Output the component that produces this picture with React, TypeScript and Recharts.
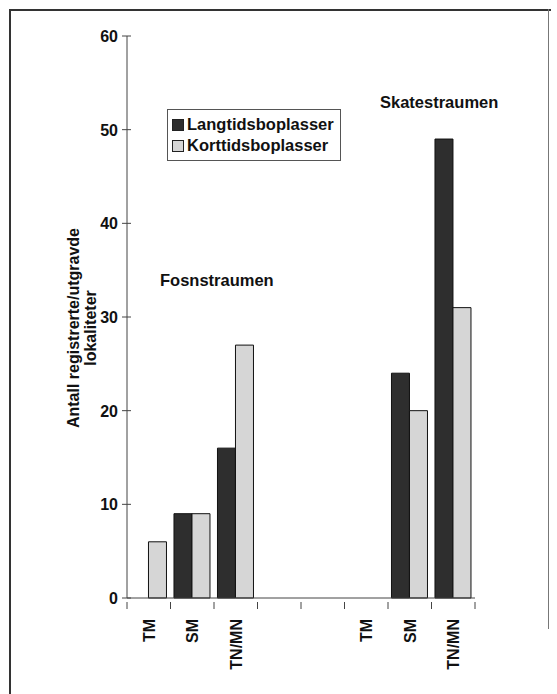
import { BarChart, Bar, XAxis, YAxis } from 'recharts'

const categories = ['TM', 'SM', 'TN/MN', '', '', 'TM', 'SM', 'TN/MN']
const langtid = [0, 9, 16, 0, 0, 0, 24, 49]
const korttid = [6, 9, 27, 0, 0, 0, 20, 31]
const yTicks = [0, 10, 20, 30, 40, 50, 60]

const seriesInfo = [
  { key: 'lang', name: 'Langtidsboplasser', color: '#2e2e2e' },
  { key: 'kort', name: 'Korttidsboplasser', color: '#d6d6d6' }
]

const data = categories.map((label, i) => ({
  id: 'c' + i,
  label,
  lang: langtid[i],
  kort: korttid[i]
}))

const W = 557
const H = 694
const PLOT_LEFT = 127
const PLOT_RIGHT = 475
const PLOT_TOP = 36
const AXIS_Y = 598
const BAND = (PLOT_RIGHT - PLOT_LEFT) / categories.length
const FONT = '"Liberation Sans", Arial, sans-serif'

function XTick(props: any) {
  const { x, y, index } = props
  const label = categories[index] ?? ''
  const left = x - BAND / 2
  return (
    <g>
      <line x1={left} x2={left} y1={y - 4} y2={y + 3} stroke="#444" strokeWidth={1} />
      {index === categories.length - 1 && (
        <line x1={x + BAND / 2} x2={x + BAND / 2} y1={y - 4} y2={y + 3} stroke="#444" strokeWidth={1} />
      )}
      <text
        x={0}
        y={0}
        transform={`translate(${x + 6}, ${y + 13}) rotate(-90)`}
        textAnchor="end"
        fontSize={16}
        fontWeight="bold"
        fontFamily={FONT}
        fill="#111"
      >
        {label}
      </text>
    </g>
  )
}

function YTick(props: any) {
  const { y, payload } = props
  return (
    <g>
      <line x1={PLOT_LEFT - 5} x2={PLOT_LEFT + 4} y1={y} y2={y} stroke="#444" strokeWidth={1} />
      <text x={PLOT_LEFT - 9} y={y + 6} textAnchor="end" fontSize={16} fontWeight="bold" fontFamily={FONT} fill="#111">
        {payload.value}
      </text>
    </g>
  )
}

function LegendBox() {
  return (
    <div
      style={{
        position: 'absolute',
        left: 167,
        top: 109,
        border: '1px solid #555',
        width: 174,
        height: 52,
        boxSizing: 'border-box',
        padding: '4px 0 0 4px',
        fontFamily: FONT,
        fontWeight: 'bold',
        fontSize: 16.5,
        color: '#111',
        background: '#fff'
      }}
    >
      {seriesInfo.map((s) => (
        <div key={s.key} style={{ display: 'flex', alignItems: 'center', height: 21 }}>
          <span
            style={{
              display: 'inline-block',
              width: 10,
              height: 10,
              background: s.color,
              border: '1px solid #222',
              marginRight: 3
            }}
          />
          {s.name}
        </div>
      ))}
    </div>
  )
}

export default function App() {
  return (
    <div style={{ position: 'absolute', left: 0, top: 0, width: W, height: H, background: '#fff' }}>
      <div style={{ position: 'absolute', left: 9, top: 9, width: 540, height: 685, borderLeft: '2px solid #333', borderTop: '2px solid #333' }} />
      <div style={{ position: 'absolute', left: 548, top: 9, width: 0, height: 620, borderLeft: '1px solid #777' }} />
      <BarChart
        width={W}
        height={H}
        data={data}
        margin={{ top: PLOT_TOP, right: W - PLOT_RIGHT, left: PLOT_LEFT - 60, bottom: 26 }}
        barCategoryGap="8%"
        barGap={0}
      >
        <XAxis
          dataKey="id"
          height={H - AXIS_Y - 26}
          interval={0}
          tickLine={false}
          axisLine={{ stroke: '#444' }}
          tick={<XTick />}
        />
        <YAxis
          width={60}
          domain={[0, 60]}
          ticks={yTicks}
          tickLine={false}
          axisLine={{ stroke: '#444' }}
          tick={<YTick />}
        />
        {seriesInfo.map((s) => (
          <Bar
            key={s.key}
            dataKey={s.key}
            name={s.name}
            fill={s.color}
            stroke="#111"
            strokeWidth={1}
            isAnimationActive={false}
          />
        ))}
      </BarChart>
      <LegendBox />
      <div style={{ position: 'absolute', left: 160, top: 271, fontFamily: FONT, fontWeight: 'bold', fontSize: 16.5, color: '#111' }}>
        Fosnstraumen
      </div>
      <div style={{ position: 'absolute', left: 380, top: 93, fontFamily: FONT, fontWeight: 'bold', fontSize: 16.5, color: '#111' }}>
        Skatestraumen
      </div>
      <div
        style={{
          position: 'absolute',
          left: 82,
          top: 328,
          transform: 'translate(-50%, -50%) rotate(-90deg)',
          fontFamily: FONT,
          fontWeight: 'bold',
          fontSize: 16,
          lineHeight: '17px',
          color: '#111',
          textAlign: 'center',
          whiteSpace: 'nowrap'
        }}
      >
        Antall registrerte/utgravde
        <br />
        lokaliteter
      </div>
    </div>
  )
}
